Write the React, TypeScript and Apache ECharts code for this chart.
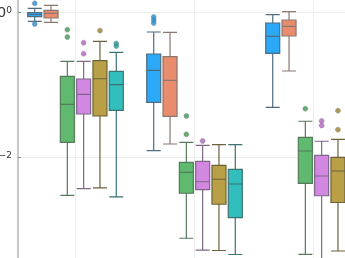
import React, { useEffect, useRef } from "react";
import * as echarts from "echarts";

const categories = ["A", "B", "C"];
const seriesNames = ["s1", "s2", "s3", "s4", "s5", "s6"];
const boxColors = ["#2ba8f7", "#e98c6e", "#5fb96e", "#d287e0", "#b9a046", "#33bebe"];
const borderColors = ["#4f6c80", "#8a7770", "#557a5c", "#7d6787", "#6b613c", "#3b7272"];
const outlierColors = ["#1f8fd8", "#d56f52", "#3f9a50", "#b65fc6", "#9a8228", "#1f9c9c"];

// [min, Q1, median, Q3, max] per category
const s1Box = [
  [0.744, 0.861, 0.924, 0.978, 1.125],
  [0.01222, 0.0568, 0.157, 0.2634, 0.53],
  [0.0485, 0.2694, 0.462, 0.705, 0.918],
];
const s2Box = [
  [0.721, 0.827, 0.96, 1.055, 1.237],
  [0.0151, 0.0364, 0.1143, 0.2417, 0.525],
  [0.1535, 0.4667, 0.635, 0.776, 1.01],
];
const s3Box = [
  [0.00296, 0.01595, 0.0533, 0.1298, 0.209],
  [0.000757, 0.00316, 0.00615, 0.00845, 0.01595],
  [0.000455, 0.00434, 0.0121, 0.0187, 0.0311],
];
const s4Box = [
  [0.00366, 0.0392, 0.0732, 0.119, 0.209],
  [0.000521, 0.00354, 0.00456, 0.00873, 0.0145],
  [0.000276, 0.00292, 0.00547, 0.01055, 0.01648],
];
const s5Box = [
  [0.00374, 0.0368, 0.12, 0.214, 0.394],
  [0.000513, 0.00223, 0.00493, 0.00768, 0.01478],
  [0.000505, 0.002357, 0.00641, 0.0099, 0.01754],
];
const s6Box = [
  [0.00281, 0.0441, 0.0994, 0.152, 0.278],
  [0.000452, 0.001455, 0.00424, 0.00677, 0.01478],
  [0.0004, 0.002, 0.005, 0.01, 0.02],
];

// outliers: [categoryIndex, value]
const s1Out = [[0, 1.318], [0, 0.683], [1, 0.853], [1, 0.776], [1, 0.705]];
const s2Out: number[][] = [];
const s3Out = [[0, 0.57], [0, 0.452], [1, 0.0368], [1, 0.02056], [2, 0.0464]];
const s4Out = [[0, 0.377], [0, 0.266], [1, 0.01663], [2, 0.0314], [2, 0.0272]];
const s5Out = [[0, 0.552], [2, 0.0435], [2, 0.0238]];
const s6Out = [[0, 0.368], [0, 0.34]];

const boxes = [s1Box, s2Box, s3Box, s4Box, s5Box, s6Box];
const outliers = [s1Out, s2Out, s3Out, s4Out, s5Out, s6Out];

const GRID_LEFT = 16;
const GRID_WIDTH = 357;

export default function App() {
  const ref = useRef<HTMLDivElement>(null);
  useEffect(() => {
    if (!ref.current) return;
    const chart = echarts.init(ref.current, undefined, { renderer: "svg" });
    const n = seriesNames.length;
    const band = GRID_WIDTH / categories.length;
    const avail = band * 0.8 - 2;
    const gap = (avail / n) * 0.3;
    const bw = (avail - gap * (n - 1)) / n;
    const offset = (i: number) => (bw / 2 - avail / 2 + i * (gap + bw)) / band;

    const series: any[] = [];
    seriesNames.forEach((name, i) => {
      series.push({
        name,
        type: "boxplot",
        xAxisIndex: 0,
        boxWidth: [14, 14],
        data: boxes[i].map((row) => row.map((v) => Math.log10(v))),
        itemStyle: { color: boxColors[i], borderColor: borderColors[i], borderWidth: 1.2 },
        z: 2,
      });
    });
    seriesNames.forEach((name, i) => {
      series.push({
        name: name + "-out",
        type: "scatter",
        xAxisIndex: 1,
        symbolSize: 5,
        data: outliers[i].map(([c, v]) => [c + offset(i), Math.log10(v)]),
        itemStyle: { color: outlierColors[i], borderColor: "#777", borderWidth: 0.5 },
        z: 3,
      });
    });

    chart.setOption({
      animation: false,
      grid: {
        left: GRID_LEFT,
        width: GRID_WIDTH,
        top: -133,
        height: 435,
        containLabel: false,
        outerBoundsMode: "none",
      },
      xAxis: [
        {
          type: "category",
          data: categories,
          axisLine: { show: false },
          axisTick: { show: false },
          axisLabel: { show: false },
          splitLine: { show: true, alignWithLabel: true, lineStyle: { color: "#eeeeee", width: 1 } },
        },
        { type: "value", min: -0.5, max: 2.5, show: false },
      ],
      yAxis: {
        type: "value",
        min: -4,
        max: 2,
        interval: 2,
        offset: -2,
        axisLine: { show: true, onZero: false, lineStyle: { color: "#c8c8c8", width: 2 } },
        axisTick: { show: true, inside: true, length: 3, lineStyle: { color: "#888" } },
        splitLine: { show: true, lineStyle: { color: "#eeeeee", width: 1 } },
        axisLabel: {
          margin: 6,
          hideOverlap: false,
          showMinLabel: false,
          showMaxLabel: false,
          formatter: (v: number) => `{b|10}{s|${v < 0 ? "\u2212" + Math.abs(v) : v}}`,
          rich: {
            b: { fontSize: 14, lineHeight: 14, padding: [6, 0, 0, 0], verticalAlign: "bottom", color: "#333", fontFamily: "DejaVu Sans" },
            s: { fontSize: 9, lineHeight: 9, verticalAlign: "top", color: "#333", fontFamily: "DejaVu Sans" },
          },
        },
      },
      series,
    });
    return () => chart.dispose();
  }, []);
  return <div ref={ref} style={{ position: "fixed", left: 0, top: 0, width: 345, height: 258 }} />;
}
